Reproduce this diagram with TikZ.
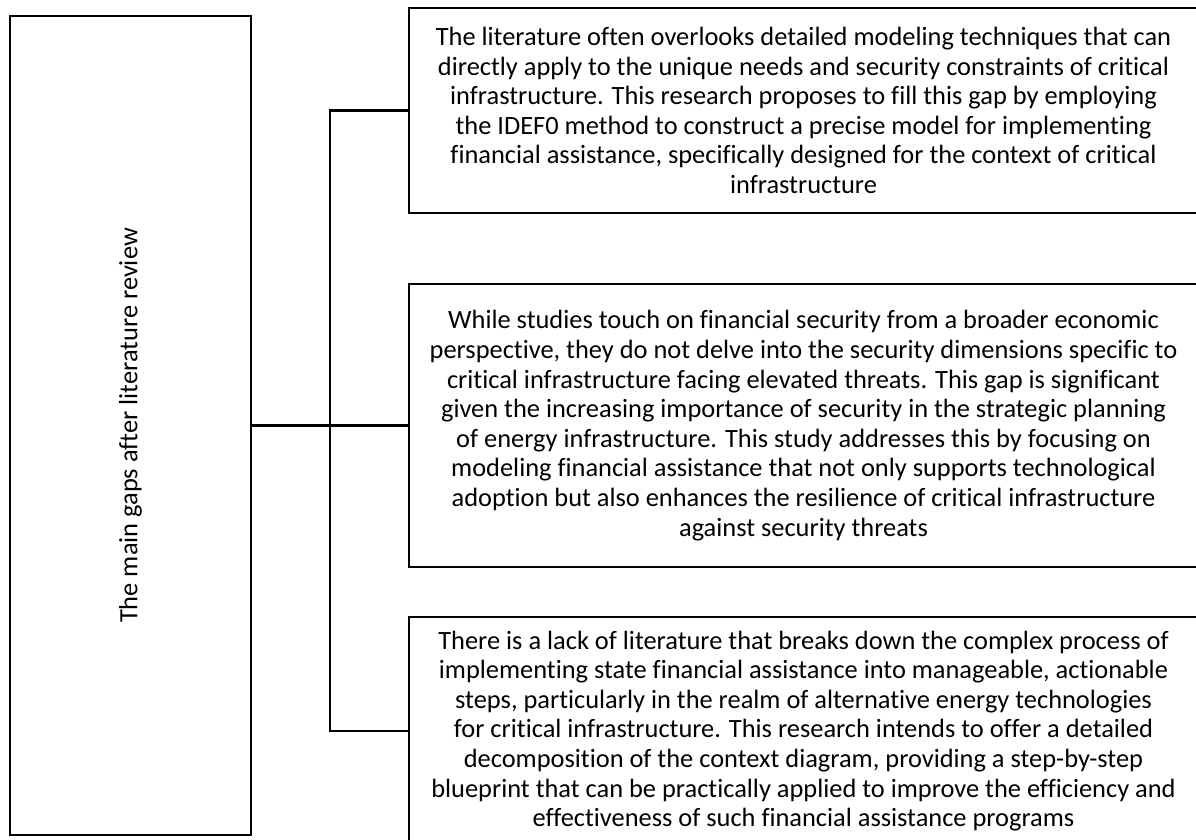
\documentclass[tikz,border=0pt]{standalone}
\usepackage{fontspec}
\setmainfont[Ligatures=NoCommon]{Carlito}
\begin{document}
\begin{tikzpicture}[x=1pt,y=-1pt,
  every node/.style={font=\fontsize{26.4}{29.6}\selectfont, text=black},
  gapbox/.style={draw=black, line width=2.2pt, rectangle, inner sep=0pt,
    minimum width=789pt, align=center, anchor=center},
  mainbox/.style={draw=black, line width=2.2pt, rectangle, inner sep=0pt,
    minimum width=241pt, minimum height=819pt},
  link/.style={draw=black, line width=2.2pt}]
\useasboundingbox (0,0) rectangle (1196,840);
\node[mainbox] (main) at (130.5,425.5) {\rotatebox{90}{The main gaps after literature review}};
\node[gapbox, minimum height=205pt] (b1) at (803.5,110.5) {The literature often overlooks detailed modeling techniques that can\\directly apply to the unique needs and security constraints of critical\\infrastructure. This research proposes to fill this gap by employing\\the IDEF0 method to construct a precise model for implementing\\financial assistance, specifically designed for the context of critical\\infrastructure};
\node[gapbox, minimum height=283pt] (b2) at (803.5,425.5) {While studies touch on financial security from a broader economic\\perspective, they do not delve into the security dimensions specific to\\critical infrastructure facing elevated threats. This gap is significant\\given the increasing importance of security in the strategic planning\\of energy infrastructure. This study addresses this by focusing on\\modeling financial assistance that not only supports technological\\adoption but also enhances the resilience of critical infrastructure\\against security threats};
\node[gapbox, minimum height=228pt] (b3) at (803.5,731) {There is a lack of literature that breaks down the complex process of\\implementing state financial assistance into manageable, actionable\\steps, particularly in the realm of alternative energy technologies\\for critical infrastructure. This research intends to offer a detailed\\decomposition of the context diagram, providing a step-by-step\\blueprint that can be practically applied to improve the efficiency and\\effectiveness of such financial assistance programs};
\coordinate (jx) at (330,425.5);
\draw[link] (main.east) -- (b2.west);
\draw[link] (b1.west) -- (b1.west -| jx) -- (b3.west -| jx) -- (b3.west);
\end{tikzpicture}
\end{document}
